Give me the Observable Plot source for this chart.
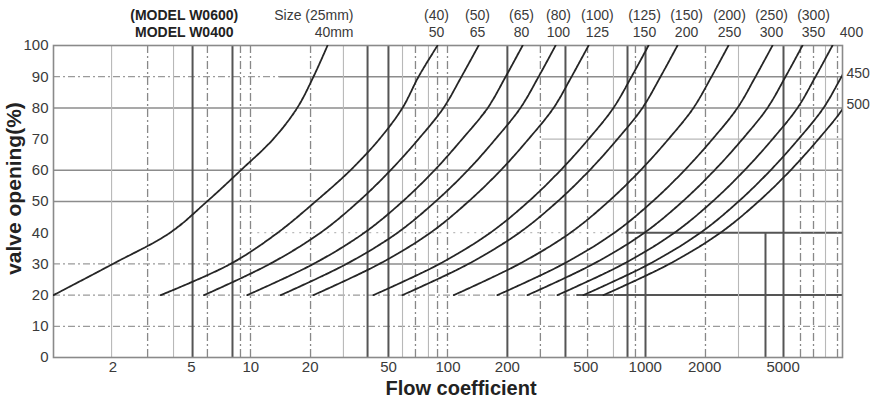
<!DOCTYPE html>
<html><head><meta charset="utf-8">
<script src="https://cdn.jsdelivr.net/npm/d3@7"></script>
<script src="https://cdn.jsdelivr.net/npm/@observablehq/plot@0.6"></script>
<style>body{margin:0;background:#fff}</style>
</head><body><div id="chart"></div>
<script>
// valve opening (%) at which each flow-coefficient value is read
const openings = [20, 30, 40, 50, 60, 70, 80, 90, 100];
// curve names (size, mm)
const sizes = ["40", "50", "65", "80", "100", "125", "150", "200", "250", "300", "350", "400", "450", "500"];
// flow coefficient at the openings above
const cv40  = [1.0, 2.0, 3.9, 6.0, 8.9, 13.0, 17.2, 20.8, 24.5];
const cv50  = [3.5, 7.9, 13.7, 21.3, 32.0, 44.9, 58.8, 70.9, 88.5];
const cv65  = [5.8, 12.5, 22.6, 35.2, 51.1, 70.9, 94.9, 117, 143];
const cv80  = [9.6, 20.8, 37.7, 58.8, 85.4, 118, 159, 196, 239];
const cv100 = [14.2, 30.6, 55.5, 86.4, 126, 174, 233, 288, 351];
const cv125 = [20.8, 44.9, 81.5, 127, 185, 256, 343, 423, 516];
const cv150 = [41.9, 90.6, 164, 256, 372, 516, 690, 852, 1039];
const cv200 = [58.8, 127, 230, 359, 522, 723, 968, 1195, 1457];
const cv250 = [107, 230, 418, 651, 946, 1312, 1756, 2167, 2642];
const cv300 = [178, 385, 698, 1088, 1581, 2193, 2935, 3622, 4417];
const cv350 = [253, 546, 991, 1545, 2244, 3112, 4167, 5141, 6270];
const cv400 = [359, 776, 1407, 2193, 3185, 4417, 5915, 7297, 8898];
const cv450 = [486, 1051, 1906, 2970, 4315, 5984, 8011, 9884, 12050];
const cv500 = [614, 1327, 2407, 3751, 5451, 7556, 10117, 12480, 15220];

// axis ticks
const xTicks = [2, 5, 10, 20, 50, 100, 200, 500, 1000, 2000, 5000];
const yTicks = [0, 10, 20, 30, 40, 50, 60, 70, 80, 90, 100];

// header labels
const row1Labels = ["(40)", "(50)", "(65)", "(80)", "(100)", "(125)", "(150)", "(200)", "(250)", "(300)"];
const row2Labels = ["50", "65", "80", "100", "125", "150", "200", "250", "300", "350", "400"];
const headerCv   = [87.4, 141, 236, 363, 572, 991, 1619, 2673, 4365, 7129, 11105];
const sideLabels = ["450", "500"];
const sideOpen   = [91, 81];

// irregular grid (as in the scanned original)
const vDark  = [5.07, 8.08, 39.1, 49.9, 200, 394, 813, 1003, 5022];
const vLight = [1.97, 4.06, 29.5, 58.8, 79.6, 690, 2970, 8201];
const vDash  = [3.0, 6.03, 8.87, 9.97, 20.1, 68.4, 88.5, 99.4, 294, 510, 892, 2020, 6124, 7129, 9434];
const hY     = [10, 20, 20, 30, 30, 40, 40, 50, 60, 70, 80, 90, 90];
const hFrom  = [1, 1, 450, 1, 8, 10, 800, 1, 1, 300, 1, 1, 14];
const hTo    = [10000, 450, 10000, 8, 10000, 800, 10000, 10000, 10000, 10000, 10000, 14, 10000];
const hStyle = ["dashdot", "dashdot", "dark", "dashdot", "solid", "dotted", "dark", "solid", "solid", "light", "solid", "dashdot", "solid"];

const curves = [cv40, cv50, cv65, cv80, cv100, cv125, cv150, cv200, cv250, cv300, cv350, cv400, cv450, cv500];
const rows = curves.flatMap((c, k) => c.map((cv, i) => ({size: sizes[k], cv, open: openings[i]})));
const hSegs = hY.map((y, i) => ({y, x1: hFrom[i], x2: hTo[i], s: hStyle[i]}));

const st = {
  dark:    {stroke: "#555", strokeWidth: 2},
  solid:   {stroke: "#8c8c8c", strokeWidth: 1.5},
  light:   {stroke: "#b8b8b8", strokeWidth: 1.1},
  dashdot: {stroke: "#9a9a9a", strokeWidth: 1.3, strokeDasharray: "7,3,2,3"},
  dotted:  {stroke: "#bbb", strokeWidth: 1.2, strokeDasharray: "2,5"}
};
const font = "'Liberation Sans', Arial, Helvetica, sans-serif";

const chart = Plot.plot({
  width: 873, height: 401,
  marginLeft: 53, marginRight: 31, marginTop: 45, marginBottom: 44,
  style: {fontFamily: font, fontSize: "15px", color: "#3a3a3a", background: "#fff"},
  x: {type: "log", domain: [1, 10000], axis: null},
  y: {domain: [0, 100]},
  marks: [
    ...Object.keys(st).map(k => Plot.ruleY(hSegs.filter(d => d.s === k), {y: "y", x1: "x1", x2: "x2", ...st[k]})),
    Plot.ruleX(vLight, {...st.light}),
    Plot.ruleX(vDash, {stroke: "#888", strokeWidth: 1.3, strokeDasharray: "8,3,2,3"}),
    Plot.ruleX(vDark, {...st.dark}),
    Plot.ruleX([4070], {y1: 0, y2: 40, ...st.dark}),
    Plot.frame({stroke: "#8a8a8a", strokeWidth: 1.6}),
    Plot.line(rows, {x: "cv", y: "open", z: "size", curve: "catmull-rom", stroke: "#262626", strokeWidth: 1.8, strokeDasharray: "3.5,1", clip: true}),
    Plot.text(xTicks, {x: d => d, text: d => String(d), frameAnchor: "bottom", dy: 10, lineAnchor: "middle", fontSize: 15}),
    Plot.axisY({ticks: yTicks, tickSize: 0, tickPadding: 5, label: null, fontSize: 15}),
    Plot.text(row1Labels, {x: (d, i) => headerCv[i], y: () => 100, text: d => d, dy: -30, fontSize: 14, lineAnchor: "middle"}),
    Plot.text(row2Labels, {x: (d, i) => headerCv[i], y: () => 100, text: d => d, dy: -13, fontSize: 14, lineAnchor: "middle"}),
    Plot.text(["Size (25mm)"], {x: () => 33.2, y: () => 100, dy: -30, textAnchor: "end", fontSize: 14, lineAnchor: "middle"}),
    Plot.text(["40mm"], {x: () => 33.2, y: () => 100, dy: -13, textAnchor: "end", fontSize: 14, lineAnchor: "middle"}),
    Plot.text(["(MODEL W0600)"], {x: () => 4.6, y: () => 100, dy: -30, fontSize: 14, fontWeight: "bold", fontFamily: "'Liberation Sans Narrow', 'Liberation Sans', sans-serif", lineAnchor: "middle", fill: "#222"}),
    Plot.text(["MODEL W0400"], {x: () => 4.6, y: () => 100, dy: -13, fontSize: 14, fontWeight: "bold", fontFamily: "'Liberation Sans Narrow', 'Liberation Sans', sans-serif", lineAnchor: "middle", fill: "#222"}),
    Plot.text(sideLabels, {y: (d, i) => sideOpen[i], text: d => d, frameAnchor: "right", dx: 4, textAnchor: "start", fontSize: 14}),
    Plot.text(["valve opening(%)"], {frameAnchor: "left", dx: -39, dy: -13, rotate: -90, textAnchor: "middle", fontWeight: "bold", fontSize: 21, fill: "#222"}),
    Plot.text(["Flow coefficient"], {frameAnchor: "bottom", dy: 31, dx: 13, fontWeight: "bold", fontSize: 20, fill: "#222", lineAnchor: "middle"})
  ]
});
document.getElementById("chart").append(chart);
</script>
</body></html>
